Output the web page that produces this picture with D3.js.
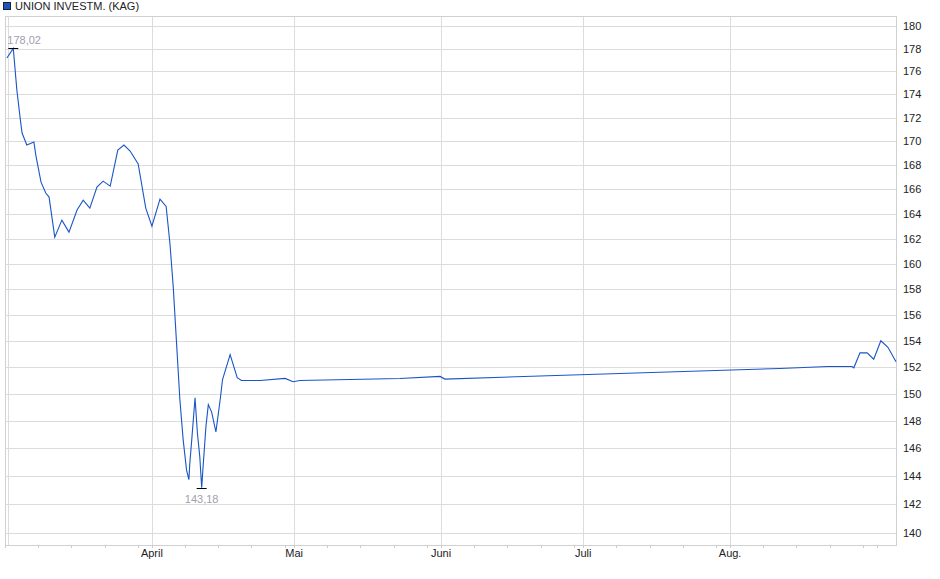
<!DOCTYPE html>
<html><head><meta charset="utf-8">
<script src="https://cdn.jsdelivr.net/npm/d3@7"></script>
<style>body{margin:0;background:#fff}text{font-family:"Liberation Sans",Arial,sans-serif}</style>
</head><body><div id="chart"></div>
<script>
// day offsets from 2025-03-01 and prices
var dayOffsets = [0.4,1.75,2.5,3.2,3.6,4.6,6.1,6.5,7.6,8.6,9.3,10.5,12.0,13.5,15.2,16.5,17.9,19.4,20.7,22.2,23.8,25.1,26.4,28.1,29.7,31.0,32.7,34.0,
  34.8,35.5,36.2,36.9,37.6,38.3,38.8,39.0,39.4,40.1,40.6,41.1,41.5,41.8,42.4,42.9,43.6,44.5,45.4,45.9,47.5,49.0,49.9,
  53.8,59.1,60.8,62.2,83.3,91.8,92.8,123,155,163.5,173.6,178.7,179.1,180.4,181.9,183.3,184.8,186.3,188.0];
var prices = [177.17,178.02,174.38,171.97,170.7,169.69,169.94,168.85,166.6,165.7,165.37,162.12,163.49,162.52,164.31,165.12,164.47,166.19,166.68,166.27,169.27,169.69,169.19,168.1,164.47,163.0,165.2,164.6,
  161.61,158.17,153.8,149.56,146.6,144.45,143.75,144.95,146.6,149.7,147.1,145.4,143.18,144.7,147.6,149.2,148.65,147.2,149.56,151.07,152.95,151.2,151.0,
  151.0,151.15,150.9,151.0,151.15,151.3,151.1,151.45,151.8,151.9,152.05,152.05,151.95,153.08,153.08,152.6,154.0,153.5,152.4];
var yTicks = d3.range(140, 181, 2);
var monthTicks = [["2025-04-01","April"],["2025-05-01","Mai"],["2025-06-01","Juni"],["2025-07-01","Juli"],["2025-08-01","Aug."]];

var W = 940, H = 579;
var start = new Date(2025, 2, 1);
var toDate = function(d){ return new Date(start.getTime() + d*864e5); };
var data = dayOffsets.map(function(d,i){ return {date: toDate(d), v: prices[i]}; });

var x = d3.scaleTime().domain([start, toDate(188)]).range([5, 896]);
var y = d3.scaleLog().domain([139.17, 180.9]).range([545, 16]);

var svg = d3.select('#chart').append('svg').attr('width', W).attr('height', H);

// grid
svg.selectAll('.hg').data(yTicks).enter().append('line')
  .attr('x1', 5).attr('x2', 896).attr('y1', function(d){ return Math.round(y(d))+0.5; }).attr('y2', function(d){ return Math.round(y(d))+0.5; })
  .style('stroke', '#dcdcdc');
svg.selectAll('.vg').data(monthTicks).enter().append('line')
  .attr('x1', function(d){ return Math.round(x(new Date(d[0])))+0.5; }).attr('x2', function(d){ return Math.round(x(new Date(d[0])))+0.5; })
  .attr('y1', 16).attr('y2', 545).style('stroke', '#dcdcdc');
// frame
svg.append('rect').attrs ? null : null;
svg.append('rect').attr('x', 5.5).attr('y', 16.5).attr('width', 891).attr('height', 529)
  .style('fill', 'none').style('stroke', '#d0d0d0');
svg.append('line').attr('x1', 8.5).attr('x2', 8.5).attr('y1', 16).attr('y2', 545).style('stroke', '#dcdcdc');

// x ticks
svg.selectAll('.xt').data(d3.timeDay.every(7).range(start, toDate(188))).enter().append('line')
  .attr('x1', function(d){ return Math.round(x(d))+0.5; }).attr('x2', function(d){ return Math.round(x(d))+0.5; })
  .attr('y1', 545).attr('y2', 548).style('stroke', '#ccc');
svg.selectAll('.xl').data(monthTicks).enter().append('text')
  .attr('x', function(d){ return x(new Date(d[0])); }).attr('y', 557)
  .attr('text-anchor', 'middle').style('font-size', '11px').style('fill', '#222')
  .text(function(d){ return d[1]; });

// y labels
svg.selectAll('.yl').data(yTicks).enter().append('text')
  .attr('x', 903).attr('y', function(d){ return y(d) + 4; })
  .style('font-size', '11px').style('fill', '#222').text(function(d){ return d; });

// line
var line = d3.line().x(function(d){ return x(d.date); }).y(function(d){ return y(d.v); });
svg.append('path').datum(data).attr('d', line)
  .style('fill', 'none').style('stroke', '#1a55c6').style('stroke-width', 1.1);

// min / max markers
var hi = data[d3.maxIndex(data, function(d){ return d.v; })];
var lo = data[d3.minIndex(data, function(d){ return d.v; })];
[[hi, -1], [lo, 1]].forEach(function(p){
  var px = x(p[0].date), py = Math.round(y(p[0].v)) + 0.5;
  svg.append('line').attr('x1', px-5).attr('x2', px+5).attr('y1', py).attr('y2', py).style('stroke', '#000');
  svg.append('text').attr('x', p[1] < 0 ? px-6 : px).attr('y', p[1] < 0 ? py-5 : py+14)
    .attr('text-anchor', p[1] < 0 ? 'start' : 'middle')
    .style('font-size', '11px').style('fill', '#a0a0b0')
    .text(p[0].v.toFixed(2).replace('.', ','));
});

// legend
svg.append('rect').attr('x', 3.5).attr('y', 2.5).attr('width', 7).attr('height', 7)
  .style('fill', '#1a55c6').style('stroke', '#222');
svg.append('text').attr('x', 15).attr('y', 10).style('font-size', '11px').style('fill', '#222')
  .text('UNION INVESTM. (KAG)');
</script></body></html>
